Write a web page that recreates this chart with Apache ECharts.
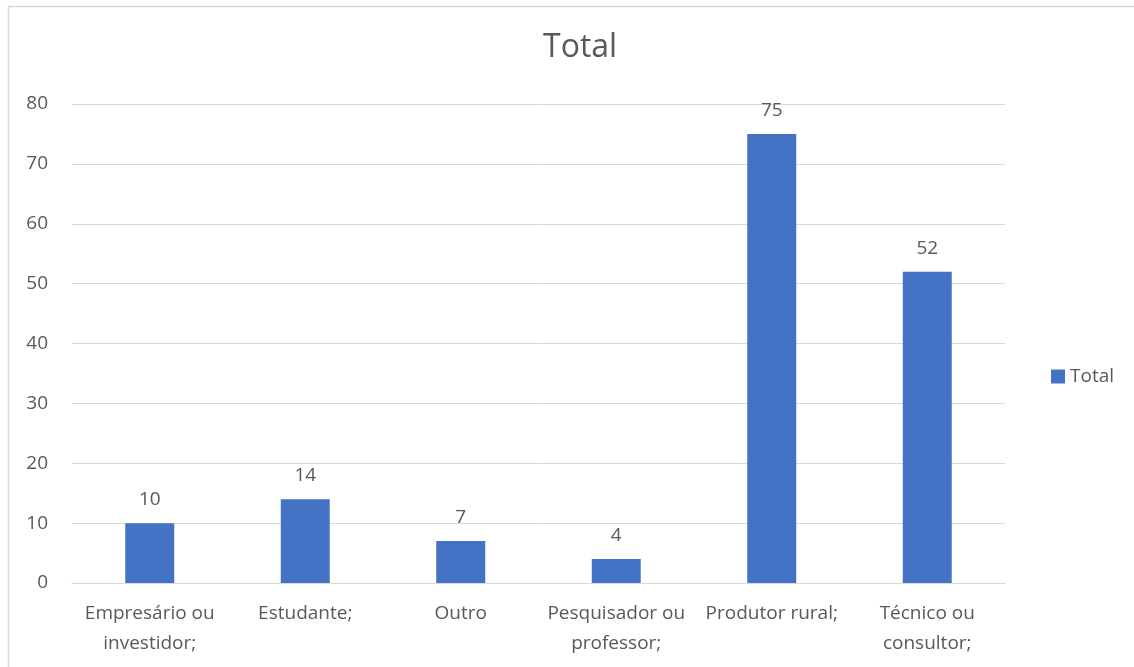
<!DOCTYPE html>
<html>
<head>
<meta charset="utf-8">
<script src="https://cdn.jsdelivr.net/npm/echarts@6/dist/echarts.min.js"></script>
<style>
  html, body { margin: 0; padding: 0; background: #ffffff; }
  #chart { width: 1134px; height: 667px; }
</style>
</head>
<body>
<div id="chart"></div>
<script>
// Respondent categories (line breaks mark where the axis labels wrap)
const categories = [
  'Empresário ou\ninvestidor;',
  'Estudante;',
  'Outro',
  'Pesquisador ou\nprofessor;',
  'Produtor rural;',
  'Técnico ou\nconsultor;'
];
const totals = [10, 14, 7, 4, 75, 52];
const seriesName = 'Total';
const chartTitle = 'Total';

const FONT = '"Open Sans", "Liberation Sans", sans-serif';
const TEXT = '#595959';
const GRID = '#d9d9d9';

const chart = echarts.init(document.getElementById('chart'), null, { renderer: 'canvas' });
chart.setOption({
  backgroundColor: '#ffffff',
  animation: false,
  textStyle: { fontFamily: FONT, color: TEXT },
  title: {
    text: chartTitle,
    left: 538,
    top: 27,
    textStyle: { fontFamily: FONT, fontSize: 32, fontWeight: 'normal', color: TEXT }
  },
  legend: {
    data: [seriesName],
    orient: 'vertical',
    left: 1046,
    top: 362,
    itemWidth: 14,
    itemHeight: 14,
    itemGap: 6,
    icon: 'rect',
    textStyle: { fontFamily: FONT, fontSize: 19, color: TEXT }
  },
  grid: { left: 72, right: 129, top: 104, bottom: 84, containLabel: false },
  xAxis: {
    type: 'category',
    data: categories,
    axisLine: { show: true, lineStyle: { color: GRID, width: 1 } },
    axisTick: { show: false },
    axisLabel: {
      interval: 0,
      margin: 16,
      fontFamily: FONT,
      fontSize: 19,
      color: TEXT,
      lineHeight: 30
    }
  },
  yAxis: {
    type: 'value',
    min: 0,
    max: 80,
    interval: 10,
    axisLine: { show: false },
    axisTick: { show: false },
    splitLine: { lineStyle: { color: GRID, width: 1 } },
    axisLabel: { margin: 24, fontFamily: FONT, fontSize: 19, color: TEXT }
  },
  series: [{
    name: seriesName,
    type: 'bar',
    data: totals,
    barWidth: '31.5%',
    itemStyle: { color: '#4472c4' },
    label: {
      show: true,
      position: 'top',
      distance: 14,
      fontFamily: FONT,
      fontSize: 19,
      color: TEXT
    }
  }],
  graphic: [{
    type: 'rect',
    silent: true,
    shape: { x: 8.5, y: 6.5, width: 1140, height: 700 },
    style: { fill: 'none', stroke: GRID, lineWidth: 1.5 }
  }]
});
</script>
</body>
</html>
